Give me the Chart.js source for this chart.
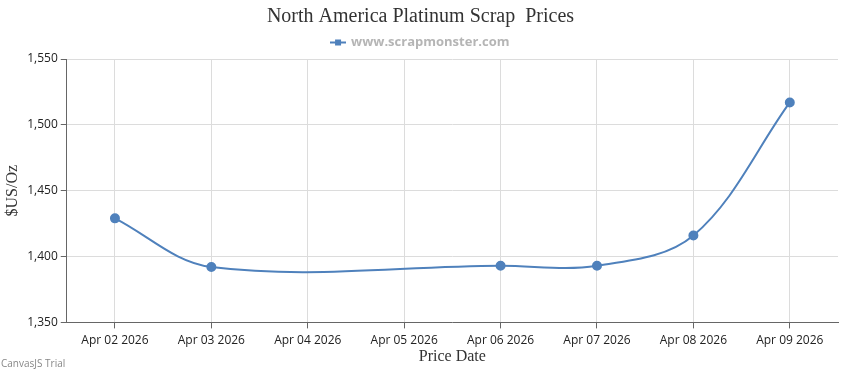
<!DOCTYPE html>
<html lang="en">
<head>
    <meta charset="UTF-8">
    <title>North America Platinum Scrap Prices</title>
    <script src="https://cdn.jsdelivr.net/npm/chart.js"></script>
    <style>
        body { margin: 0; background: #fff; }
        .chart-box { position: relative; width: 850px; height: 370px; }
        .trial {
            position: absolute; left: 1px; top: 356px;
            font: 10px "Open Sans", sans-serif; color: #888;
        }
    </style>
</head>
<body>
    <div class="chart-box">
        <canvas id="price-chart"></canvas>
        <div class="trial">CanvasJS Trial</div>
    </div>

    <script>
        // Chart data (weekend days have no price)
        const priceDates = ['Apr 02 2026', 'Apr 03 2026', 'Apr 04 2026', 'Apr 05 2026',
                            'Apr 06 2026', 'Apr 07 2026', 'Apr 08 2026', 'Apr 09 2026'];
        const platinumPrices = [1429, 1392, null, null, 1393, 1393, 1416, 1517];
        const yTicks = [1350, 1400, 1450, 1500, 1550];

        const lineColor = '#4F81BC';

        // legend marker: short line with a square in the middle
        const marker = document.createElement('canvas');
        marker.width = 16;
        marker.height = 8;
        const mctx = marker.getContext('2d');
        mctx.fillStyle = lineColor;
        mctx.fillRect(0, 3, 16, 2);
        mctx.fillRect(5, 1, 6, 6);

        const tickFont = { family: '"Open Sans", sans-serif', size: 12 };
        const serifFont = { family: '"Liberation Serif", "Times New Roman", serif', size: 16 };

        new Chart(document.getElementById('price-chart'), {
            type: 'line',
            data: {
                labels: priceDates,
                datasets: [{
                    label: 'www.scrapmonster.com',
                    data: platinumPrices,
                    borderColor: lineColor,
                    backgroundColor: lineColor,
                    borderWidth: 2,
                    pointRadius: 4,
                    pointHoverRadius: 5,
                    pointStyle: 'circle',
                    tension: 0.35,
                    spanGaps: true
                }]
            },
            options: {
                responsive: true,
                maintainAspectRatio: false,
                animation: false,
                layout: { padding: { left: 3, right: 12, top: 0, bottom: 4 } },
                plugins: {
                    title: {
                        display: true,
                        text: 'North America Platinum Scrap  Prices',
                        color: '#333',
                        font: { family: serifFont.family, size: 20, weight: 'normal' },
                        padding: { top: 5, bottom: 3 }
                    },
                    legend: {
                        display: true,
                        labels: {
                            usePointStyle: true,
                            pointStyle: marker,
                            color: '#b5b5b5',
                            font: { family: '"Open Sans", sans-serif', size: 13, weight: 'bold' },
                            padding: 4
                        }
                    },
                    tooltip: { enabled: true }
                },
                scales: {
                    x: {
                        offset: true,
                        grid: { color: '#dcdcdc', tickColor: '#666', tickLength: 6, offset: false },
                        border: { color: '#666', width: 1 },
                        ticks: { color: '#222', font: tickFont, maxRotation: 0, autoSkip: false, padding: 5 },
                        title: {
                            display: true, text: 'Price Date', color: '#333',
                            font: serifFont, padding: { top: -6, bottom: 0 }
                        }
                    },
                    y: {
                        min: 1350,
                        max: 1550,
                        afterBuildTicks: axis => { axis.ticks = yTicks.map(v => ({ value: v })); },
                        grid: { color: '#dcdcdc', tickColor: '#666', tickLength: 6 },
                        border: { color: '#666', width: 1 },
                        ticks: { color: '#222', font: tickFont, padding: 3 },
                        title: {
                            display: true, text: '$US/Oz', color: '#333',
                            font: serifFont, padding: { top: 0, bottom: 2 }
                        }
                    }
                }
            }
        });
    </script>
</body>
</html>
